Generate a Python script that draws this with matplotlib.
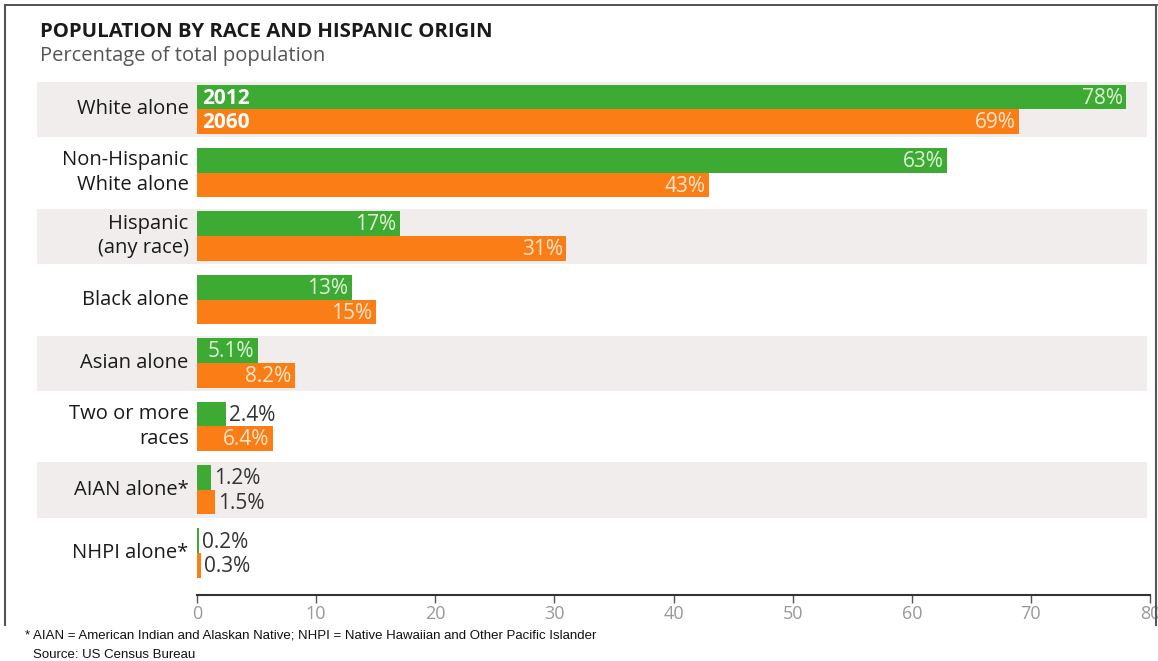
import matplotlib
matplotlib.use('Agg')
import matplotlib.pyplot as plt
from matplotlib.lines import Line2D

# 數據
categories = ['White alone', 'Non-Hispanic\nWhite alone', 'Hispanic\n(any race)', 'Black alone',
              'Asian alone', 'Two or more\nraces', 'AIAN alone*', 'NHPI alone*']
values_2012 = [78, 63, 17, 13, 5.1, 2.4, 1.2, 0.2]
values_2060 = [69, 43, 31, 15, 8.2, 6.4, 1.5, 0.3]
labels_2012 = ['78%', '63%', '17%', '13%', '5.1%', '2.4%', '1.2%', '0.2%']
labels_2060 = ['69%', '43%', '31%', '15%', '8.2%', '6.4%', '1.5%', '0.3%']
shaded_rows = [0, 2, 4, 6]
x_ticks = [0, 10, 20, 30, 40, 50, 60, 70, 80]

GREEN = '#3dab33'
ORANGE = '#fb7d16'
BAND = '#f1eded'
FONT = 'Open Sans'

plt.rcParams['font.family'] = [FONT, 'DejaVu Sans']

fig = plt.figure(figsize=(11.58, 6.61), dpi=100)
ax = fig.add_axes([197 / 1158, 66 / 661, 953 / 1158, (595 - 82) / 661])

bh = 0.39
inside_min = 5  # 大於此值的標籤放在條內

for i in shaded_rows:
    ax.axhspan(i - 0.43, i + 0.44, xmin=-0.168, xmax=0.997, color=BAND, zorder=0, clip_on=False, lw=0)

for i, (v1, v2) in enumerate(zip(values_2012, values_2060)):
    ax.barh(i - bh / 2, v1, height=bh, color=GREEN, zorder=2)
    ax.barh(i + bh / 2, v2, height=bh, color=ORANGE, zorder=2)
    for v, lab, y, txtc in [(v1, labels_2012[i], i - bh / 2, '#dff3d6'), (v2, labels_2060[i], i + bh / 2, '#ffe6cc')]:
        if v > inside_min:
            ax.text(v - 0.3, y + 0.02, lab, ha='right', va='center', fontsize=15, color=txtc, zorder=3)
        else:
            ax.text(v + 0.25, y + 0.02, lab, ha='left', va='center', fontsize=15, color='#333333', zorder=3)
    ax.text(-0.7, i, categories[i], ha='right', va='center', fontsize=14.5, color='#1a1a1a',
            linespacing=1.3)

ax.text(0.4, -bh / 2 + 0.02, '2012', ha='left', va='center', fontsize=15, color='white', fontweight='bold', zorder=3)
ax.text(0.4, bh / 2 + 0.02, '2060', ha='left', va='center', fontsize=15, color='white', fontweight='bold', zorder=3)

ax.set_xlim(0, 80)
ax.set_ylim(7.66, -0.43)
ax.set_xticks(x_ticks)
ax.set_xticklabels([str(t) for t in x_ticks], color='#999999', fontsize=13)
ax.set_yticks([])
ax.tick_params(axis='x', length=6, color='#555555', width=1, pad=1)
for s in ['top', 'right', 'left']:
    ax.spines[s].set_visible(False)
ax.spines['bottom'].set_color('#333333')
ax.spines['bottom'].set_linewidth(1.5)

# 標題
fig.text(40 / 1158, 1 - 32 / 661, 'POPULATION BY RACE AND HISPANIC ORIGIN', fontsize=14.7,
         fontweight='bold', color='#1a1a1a', va='center', ha='left')
fig.text(40 / 1158, 1 - 56 / 661, 'Percentage of total population', fontsize=14.5,
         color='#555555', va='center', ha='left')

# 腳註
fig.text(25 / 1158, 1 - 636 / 661, '* AIAN = American Indian and Alaskan Native; NHPI = Native Hawaiian and Other Pacific Islander',
         fontsize=9.5, family=['Liberation Sans', 'DejaVu Sans'], va='center', ha='left', color='#111111')
fig.text(33 / 1158, 1 - 655 / 661, 'Source: US Census Bureau',
         fontsize=9.5, family=['Liberation Sans', 'DejaVu Sans'], va='center', ha='left', color='#111111')

# 外框
fig.add_artist(Line2D([5 / 1158, 1157 / 1158], [1 - 5 / 661, 1 - 5 / 661], color='#333333', lw=1.2))
fig.add_artist(Line2D([5 / 1158, 5 / 1158], [1 - 5 / 661, 1 - 625 / 661], color='#555555', lw=1.5))
fig.add_artist(Line2D([1156 / 1158, 1156 / 1158], [1 - 5 / 661, 1 - 625 / 661], color='#555555', lw=1.5))

fig.savefig('out.png', dpi=100)
